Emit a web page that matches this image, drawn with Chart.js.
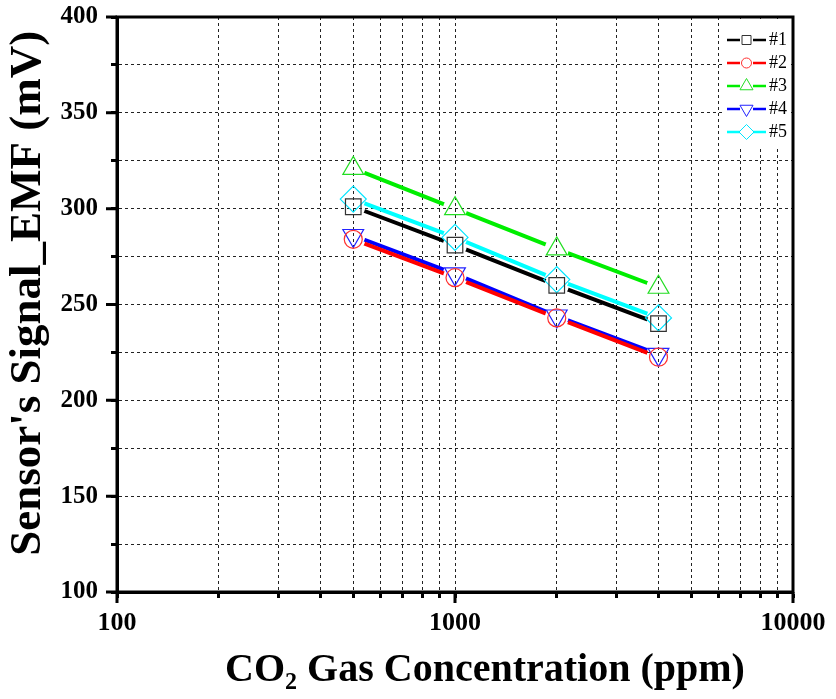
<!DOCTYPE html>
<html>
<head>
<meta charset="utf-8">
<script src="https://cdn.jsdelivr.net/npm/chart.js@4.4.1/dist/chart.umd.min.js"></script>
<style>
  html, body { margin: 0; padding: 0; background: #fff; }
  #wrap { position: relative; width: 836px; height: 699px; }
  #legend { position: absolute; background: #fff; font-family: "Liberation Serif", "Times New Roman", serif; font-size: 18px; color: #000; padding-top: 9px; box-sizing: border-box; }
  .item { display: flex; align-items: center; height: 23px; }
  .item canvas { margin-left: 5px; margin-right: 3px; }
</style>
</head>
<body>
<div id="wrap">
  <canvas id="chartCanvas" width="836" height="699"></canvas>
  <div id="legend"></div>
</div>
<script>
// --- data ---
const concentration = [500, 1000, 2000, 4000];
const sensor1 = [301, 281, 260, 240];
const sensor2 = [284, 264, 243, 222.5];
const sensor3 = [321, 300, 279, 259];
const sensor4 = [286, 266, 244, 224];
const sensor5 = [305, 285, 263, 243];
const seriesNames = ["#1", "#2", "#3", "#4", "#5"];

// tick values (log axis) and which of them get a label
const xTickValues = [100, 200, 300, 400, 500, 600, 700, 800, 900,
  1000, 2000, 3000, 4000, 5000, 6000, 7000, 8000, 9000, 10000];
const xLabelValues = [100, 1000, 10000];
const yMin = 100, yMax = 400, yStep = 25, yLabelStep = 50;

// --- styles ---
const seriesValues = [sensor1, sensor2, sensor3, sensor4, sensor5];
const lineColors = ["#000000", "#ff0000", "#00ee00", "#0000ff", "#00ffff"];
const markerColors = ["#333333", "#ff3030", "#22dd22", "#2222ff", "#00e5ff"];
const markerStyles = [
  { pointStyle: "rect", radius: 11, rotation: 0 },
  { pointStyle: "circle", radius: 9, rotation: 0 },
  { pointStyle: "triangle", radius: 12, rotation: 0 },
  { pointStyle: "triangle", radius: 12, rotation: 180 },
  { pointStyle: "rectRot", radius: 13, rotation: 0 }
];
const serif = "'Liberation Serif', 'Times New Roman', serif";

const canvas = document.getElementById("chartCanvas");

// lines first (drawn underneath), then hollow markers
const lineSets = seriesValues.map((vals, i) => ({
  label: seriesNames[i] + " line",
  data: concentration.map((x, j) => ({ x, y: vals[j] })),
  showLine: true,
  borderColor: lineColors[i],
  borderWidth: 4,
  pointRadius: 0,
  gapRadius: 12,
  order: 2
}));
const markerSets = seriesValues.map((vals, i) => ({
  label: seriesNames[i],
  data: concentration.map((x, j) => ({ x, y: vals[j] })),
  showLine: false,
  pointStyle: markerStyles[i].pointStyle,
  pointRadius: markerStyles[i].radius,
  rotation: markerStyles[i].rotation,
  pointBorderColor: markerColors[i],
  pointBackgroundColor: "rgba(0,0,0,0)",
  pointBorderWidth: 1.2,
  order: 1
}));

// leave a gap in each line around its data points (Origin style)
const gapPlugin = {
  id: "gapLines",
  beforeDatasetDraw(chart, args) {
    const ds = chart.data.datasets[args.index];
    if (!ds.gapRadius) return;
    const ctx = chart.ctx;
    ctx.save();
    ctx.beginPath();
    ctx.rect(0, 0, chart.width, chart.height);
    args.meta.data.forEach(p => {
      ctx.moveTo(p.x + ds.gapRadius, p.y);
      ctx.arc(p.x, p.y, ds.gapRadius, 0, Math.PI * 2);
    });
    ctx.clip("evenodd");
  },
  afterDatasetDraw(chart, args) {
    if (chart.data.datasets[args.index].gapRadius) chart.ctx.restore();
  }
};

// heavy frame round the plot, longer ticks at labelled values
const framePlugin = {
  id: "frame",
  beforeDraw(chart) {
    const ctx = chart.ctx;
    ctx.save();
    ctx.fillStyle = "#fff";
    ctx.fillRect(0, 0, chart.width, chart.height);
    ctx.restore();
  },
  afterDraw(chart) {
    const { ctx, chartArea: a, scales } = chart;
    ctx.save();
    ctx.strokeStyle = "#000";
    ctx.lineWidth = 3;
    ctx.beginPath();
    xLabelValues.forEach(v => {
      const x = scales.x.getPixelForValue(v);
      ctx.moveTo(x, a.bottom);
      ctx.lineTo(x, a.bottom + 11);
    });
    scales.y.ticks.filter(t => t.value % yLabelStep === 0).forEach(t => {
      const y = scales.y.getPixelForValue(t.value);
      ctx.moveTo(a.left, y);
      ctx.lineTo(a.left - 11, y);
    });
    ctx.stroke();
    ctx.strokeRect(a.left, a.top, a.right - a.left, a.bottom - a.top);
    ctx.restore();
  }
};

const chart = new Chart(canvas, {
  type: "scatter",
  data: { datasets: [...lineSets, ...markerSets] },
  options: {
    responsive: false,
    animation: false,
    layout: { padding: { top: 17, right: 43, left: 0, bottom: 0 } },
    plugins: { legend: { display: false }, tooltip: { enabled: false } },
    scales: {
      x: {
        type: "logarithmic",
        min: 100,
        max: 10000,
        afterBuildTicks: s => { s.ticks = xTickValues.map(v => ({ value: v })); },
        afterFit: s => { s.height = 107; },
        ticks: {
          autoSkip: false,
          maxRotation: 0,
          padding: 10,
          color: "#000",
          font: { family: serif, size: 26, weight: "bold" },
          callback: v => xLabelValues.includes(v) ? String(v) : ""
        },
        grid: { color: "#222", lineWidth: 1, tickLength: 6, tickWidth: 3, tickColor: "#000" },
        border: { dash: [3, 3], color: "#000", width: 3 },
        title: {
          display: true,
          text: "\u2002\u2002\u2002CO\u2082 Gas Concentration (ppm)",
          color: "#000",
          font: { family: serif, size: 40, weight: "bold", lineHeight: 1.2 },
          padding: { top: 0, bottom: 4 }
        }
      },
      y: {
        min: yMin,
        max: yMax,
        afterFit: s => { s.width = 117; s.paddingTop = 0; s.paddingBottom = 0; },
        ticks: {
          stepSize: yStep,
          padding: 13,
          color: "#000",
          font: { family: serif, size: 25, weight: "bold" },
          callback: v => v % yLabelStep === 0 ? String(v) : ""
        },
        grid: { color: "#222", lineWidth: 1, tickLength: 6, tickWidth: 3, tickColor: "#000" },
        border: { dash: [3, 3], color: "#000", width: 3 },
        title: {
          display: true,
          text: "\u2002Sensor's Signal_EMF (mV)",
          color: "#000",
          font: { family: serif, size: 45, weight: "bold", lineHeight: 1.2 },
          padding: { top: 1, bottom: 0 }
        }
      }
    }
  },
  plugins: [gapPlugin, framePlugin]
});

// --- legend box inside the top-right corner of the plot ---
function drawMarker(ctx, style, x, y, r) {
  ctx.beginPath();
  if (style.pointStyle === "rect") {
    ctx.rect(x - r, y - r, 2 * r, 2 * r);
  } else if (style.pointStyle === "circle") {
    ctx.arc(x, y, r, 0, Math.PI * 2);
  } else if (style.pointStyle === "rectRot") {
    ctx.moveTo(x, y - r); ctx.lineTo(x + r, y); ctx.lineTo(x, y + r); ctx.lineTo(x - r, y); ctx.closePath();
  } else {
    const s = style.rotation ? -1 : 1;
    ctx.moveTo(x, y - s * r); ctx.lineTo(x + r * 0.87, y + s * r * 0.5); ctx.lineTo(x - r * 0.87, y + s * r * 0.5); ctx.closePath();
  }
  ctx.stroke();
}

const legendEl = document.getElementById("legend");
const area = chart.chartArea;
legendEl.style.left = (area.right - 71) + "px";
legendEl.style.top = (area.top + 2) + "px";
legendEl.style.width = "69px";
legendEl.style.height = "130px";
const legendSizes = [4.5, 5, 7.5, 7.5, 7.5];
seriesNames.forEach((name, i) => {
  const item = document.createElement("div");
  item.className = "item";
  const ic = document.createElement("canvas");
  ic.width = 39; ic.height = 18;
  const c = ic.getContext("2d");
  c.strokeStyle = lineColors[i];
  c.lineWidth = 2.5;
  c.beginPath();
  c.moveTo(0, 9); c.lineTo(13, 9);
  c.moveTo(26, 9); c.lineTo(39, 9);
  c.stroke();
  c.strokeStyle = markerColors[i];
  c.lineWidth = 1;
  drawMarker(c, markerStyles[i], 19.5, 9, legendSizes[i]);
  const t = document.createElement("span");
  t.textContent = name;
  item.appendChild(ic);
  item.appendChild(t);
  legendEl.appendChild(item);
});
</script>
</body>
</html>
